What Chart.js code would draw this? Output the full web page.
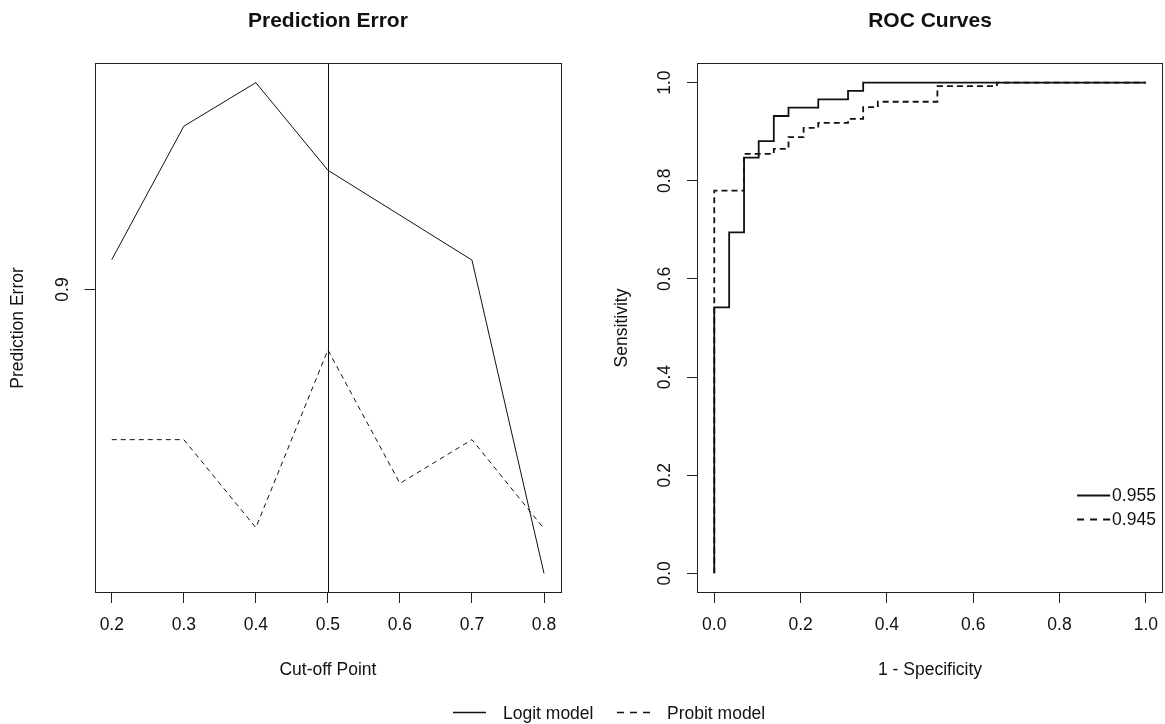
<!DOCTYPE html>
<html><head><meta charset="utf-8">
<script src="https://cdn.jsdelivr.net/npm/chart.js@4.4.1/dist/chart.umd.min.js"></script>
<style>
html,body{margin:0;padding:0;background:#fff;}
#wrap{position:relative;width:1165px;height:724px;overflow:hidden;font-family:"Liberation Sans",Arial,sans-serif;background:#fff;}
canvas{position:absolute;top:0;}
#c1{left:0}
#c2{left:580px}
.lg{position:absolute;font-size:17.5px;line-height:20px;color:#111;white-space:nowrap;}
</style></head><body>
<div id="wrap">
<canvas id="c1" width="580" height="724"></canvas>
<canvas id="c2" width="585" height="724"></canvas>
<svg id="lgsvg" width="1165" height="724" style="position:absolute;left:0;top:0;pointer-events:none"></svg>
</div>
<script>
// ---------- data ----------
const cutoffs      = [0.2, 0.3, 0.4, 0.5, 0.6, 0.7, 0.8];
const logitError   = [0.9062, 0.9344, 0.9438, 0.9250, 0.9155, 0.9061, 0.8432];
const probitError  = [0.8695, 0.8695, 0.8521, 0.8876, 0.8608, 0.8695, 0.8519];
const chosenCutoff = 0.5;
const errorXTicks  = [0.2, 0.3, 0.4, 0.5, 0.6, 0.7, 0.8];
const errorYTicks  = [0.9];

const logitFPR  = [0, 0, 0.0345, 0.069, 0.103, 0.138, 0.172, 0.241, 0.310, 0.345, 1];
const logitTPR  = [0, 0.542, 0.695, 0.847, 0.881, 0.932, 0.949, 0.966, 0.983, 1, 1];
const probitFPR = [0, 0, 0.069, 0.138, 0.172, 0.207, 0.241, 0.310, 0.345, 0.379, 0.517, 0.655, 1];
const probitTPR = [0, 0.780, 0.855, 0.865, 0.889, 0.908, 0.918, 0.926, 0.950, 0.961, 0.993, 1, 1];
const rocTicks  = [0, 0.2, 0.4, 0.6, 0.8, 1.0];
const aucValues = [0.955, 0.945];
const seriesNames = ['Logit model', 'Probit model'];

// ---------- helpers ----------
const INK = '#111';
const FONT = '"Liberation Sans", Arial, sans-serif';
Chart.defaults.font.family = FONT;
Chart.defaults.font.size = 17.5;
Chart.defaults.color = INK;

function ext(min, max) { const d = (max - min) * 0.04; return [min - d, max + d]; }
function logExt(min, max) {
  const a = Math.log10(min), b = Math.log10(max), d = (b - a) * 0.04;
  return [Math.pow(10, a - d), Math.pow(10, b + d)];
}
const allErr = logitError.concat(probitError);
const [eyMin, eyMax] = logExt(Math.min(...allErr), Math.max(...allErr));
const [exMin, exMax] = ext(Math.min(...cutoffs), Math.max(...cutoffs));
const [rMin, rMax] = ext(0, 1);

const boxPlugin = {
  id: 'box',
  afterDraw(chart) {
    const {ctx, chartArea: a} = chart;
    ctx.save();
    ctx.strokeStyle = '#222'; ctx.lineWidth = 1;
    ctx.strokeRect(Math.round(a.left) + 0.5, Math.round(a.top) + 0.5,
                   Math.round(a.right - a.left) - 1, Math.round(a.bottom - a.top) - 1);
    ctx.restore();
  }
};

const vlinePlugin = {
  id: 'vline',
  afterDatasetsDraw(chart) {
    const {ctx, chartArea: a, scales: {x}} = chart;
    const px = Math.round(x.getPixelForValue(chosenCutoff)) + 0.5;
    ctx.save();
    ctx.strokeStyle = INK; ctx.lineWidth = 1;
    ctx.beginPath(); ctx.moveTo(px, a.top); ctx.lineTo(px, a.bottom); ctx.stroke();
    ctx.restore();
  }
};

const rocLegendPlugin = {
  id: 'rocLegend',
  afterDatasetsDraw(chart) {
    const {ctx, chartArea: a} = chart;
    ctx.save();
    ctx.strokeStyle = INK; ctx.lineWidth = 1.8; ctx.fillStyle = INK;
    ctx.font = '17.5px ' + FONT; ctx.textBaseline = 'middle'; ctx.textAlign = 'left';
    const dashes = [[], [7, 6]];
    aucValues.forEach((v, i) => {
      const y = a.bottom - 97.5 + i * 24;
      ctx.setLineDash(dashes[i]);
      ctx.beginPath(); ctx.moveTo(a.right - 86, y); ctx.lineTo(a.right - 53, y); ctx.stroke();
      ctx.setLineDash([]);
      ctx.fillText(v.toFixed(3), a.right - 51, y + 1);
    });
    ctx.restore();
  }
};

function noPad(s) { s.paddingLeft = 0; s.paddingRight = 0; s.paddingTop = 0; s.paddingBottom = 0; }

function xScale(min, max, ticks, title) {
  return {
    type: 'linear', min, max, bounds: 'data',
    afterBuildTicks: s => { s.ticks = ticks.map(v => ({value: v})); },
    afterFit: s => { s.height = 131; noPad(s); },
    grid: {display: true, drawOnChartArea: false, drawTicks: true, tickLength: 10, color: '#222', lineWidth: 1},
    border: {display: false},
    ticks: {autoSkip: false, maxRotation: 0, minRotation: 0, padding: 11.5, color: INK,
            callback: v => Number(v).toFixed(1)},
    title: {display: true, text: title, color: INK, font: {size: 17.5}, padding: {top: 0, bottom: 43.5}}
  };
}
function yScale(type, min, max, ticks, title, width, titlePad) {
  return {
    type, min, max, bounds: 'data',
    afterBuildTicks: s => { s.ticks = ticks.map(v => ({value: v})); },
    afterFit: s => { s.width = width; noPad(s); },
    grid: {display: true, drawOnChartArea: false, drawTicks: true, tickLength: 10, color: '#222', lineWidth: 1},
    border: {display: false},
    ticks: {autoSkip: false, minRotation: 90, maxRotation: 90, crossAlign: 'center', padding: 9.5, color: INK,
            callback: v => Number(v).toFixed(1)},
    title: {display: true, text: title, color: INK, font: {size: 17.5}, padding: {top: titlePad, bottom: 0}}
  };
}
function titleOpts(text) {
  return {display: true, text, fullSize: false, color: INK,
          font: {size: 21, weight: 'bold'}, padding: {top: 9, bottom: 28.8}};
}

// ---------- left: Prediction Error ----------
new Chart(document.getElementById('c1'), {
  type: 'line',
  data: {
    datasets: [
      {label: seriesNames[0], data: cutoffs.map((c, i) => ({x: c, y: logitError[i]})),
       borderColor: INK, borderWidth: 1, pointRadius: 0, tension: 0, fill: false},
      {label: seriesNames[1], data: cutoffs.map((c, i) => ({x: c, y: probitError[i]})),
       borderColor: INK, borderWidth: 1, borderDash: [5, 4], pointRadius: 0, tension: 0, fill: false}
    ]
  },
  options: {
    responsive: false, animation: false, devicePixelRatio: 1,
    layout: {padding: {left: 0, right: 18.7, top: 0, bottom: 0}, autoPadding: false},
    plugins: {legend: {display: false}, tooltip: {enabled: false}, title: titleOpts('Prediction Error')},
    scales: {
      x: xScale(exMin, exMax, errorXTicks, 'Cut-off Point'),
      y: yScale('logarithmic', eyMin, eyMax, errorYTicks, 'Prediction Error', 94.5, 7.5)
    }
  },
  plugins: [vlinePlugin, boxPlugin]
});

// ---------- right: ROC Curves ----------
new Chart(document.getElementById('c2'), {
  type: 'line',
  data: {
    datasets: [
      {label: seriesNames[1], data: probitFPR.map((f, i) => ({x: f, y: probitTPR[i]})),
       borderColor: INK, borderWidth: 1.8, borderDash: [6, 4], pointRadius: 0, stepped: 'before', fill: false},
      {label: seriesNames[0], data: logitFPR.map((f, i) => ({x: f, y: logitTPR[i]})),
       borderColor: INK, borderWidth: 1.8, pointRadius: 0, stepped: 'before', fill: false}
    ]
  },
  options: {
    responsive: false, animation: false, devicePixelRatio: 1,
    layout: {padding: {left: 0, right: 1.9, top: 0, bottom: 0}, autoPadding: false},
    plugins: {legend: {display: false}, tooltip: {enabled: false}, title: titleOpts('ROC Curves')},
    scales: {
      x: xScale(rMin, rMax, rocTicks, '1 - Specificity'),
      y: yScale('linear', rMin, rMax, rocTicks, 'Sensitivity', 117, 31.5)
    }
  },
  plugins: [rocLegendPlugin, boxPlugin]
});

// ---------- shared legend ----------
(function () {
  const svg = document.getElementById('lgsvg');
  const wrap = document.getElementById('wrap');
  const items = [{x: 453, dash: ''}, {x: 617, dash: '7,6'}];
  items.forEach((it, i) => {
    const ln = document.createElementNS('http://www.w3.org/2000/svg', 'line');
    ln.setAttribute('x1', it.x); ln.setAttribute('x2', it.x + 33);
    ln.setAttribute('y1', 712.5); ln.setAttribute('y2', 712.5);
    ln.setAttribute('stroke', INK); ln.setAttribute('stroke-width', '1.4');
    if (it.dash) ln.setAttribute('stroke-dasharray', it.dash);
    svg.appendChild(ln);
    const d = document.createElement('div');
    d.className = 'lg'; d.style.left = (it.x + 50) + 'px'; d.style.top = '703px';
    d.textContent = seriesNames[i];
    wrap.appendChild(d);
  });
})();
</script>
</body></html>
